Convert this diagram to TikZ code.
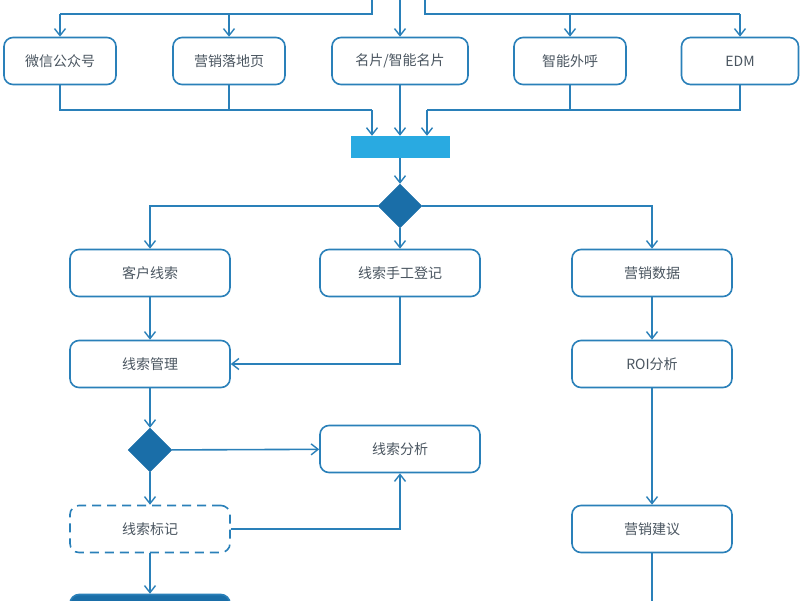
\documentclass[tikz,border=0pt]{standalone}
\usepackage{fontspec}
\setmainfont{Noto Sans CJK SC}
\usetikzlibrary{arrows.meta,shapes.geometric}
\definecolor{ln}{HTML}{2A80B9}
\definecolor{dk}{HTML}{1A6EA8}
\definecolor{bar}{HTML}{29AAE1}
\definecolor{tx}{HTML}{4A5560}
\begin{document}
\begin{tikzpicture}[x=1pt,y=-1pt,
 box/.style={draw=ln,line width=1.6pt,rounded corners=9pt,minimum width=160pt,minimum height=47pt,text=tx,font=\fontsize{14}{16}\selectfont,fill=white},
 sbox/.style={box,minimum width=112pt},
 dia/.style={diamond,fill=dk,draw=dk,minimum width=44pt,minimum height=44pt,inner sep=0pt},
 ar/.style={draw=ln,line width=1.6pt,-{Straight Barb[length=7pt,width=11pt,line width=1.4pt]}},
 ln/.style={draw=ln,line width=1.6pt}]
\useasboundingbox (0,0) rectangle (800,600);
\clip (0,0) rectangle (800,600);
\fill[white] (0,0) rectangle (800,600);
\node[sbox] (wx) at (60,61) {微信公众号};
\node[sbox] (ym) at (229,61) {营销落地页};
\node[box,minimum width=136pt] (mp) at (400,61) {名片/智能名片};
\node[sbox] (zn) at (570,61) {智能外呼};
\node[sbox,minimum width=117pt] (edm) at (740,61) {EDM};
\node[fill=bar,minimum width=99pt,minimum height=22pt,inner sep=0pt] (b) at (400,147) {};
\node[dia] (d1) at (400,206) {};
\node[box] (kh) at (150,273) {客户线索};
\node[box] (sg) at (400,273) {线索手工登记};
\node[box] (yx) at (652,273) {营销数据};
\node[box] (gl) at (150,364) {线索管理};
\node[box] (roi) at (652,364) {ROI分析};
\node[dia] (d2) at (150,450) {};
\node[box] (fx) at (400,449) {线索分析};
\node[box,dashed,dash pattern=on 9pt off 6pt] (bj) at (150,529) {线索标记};
\node[box] (jy) at (652,529) {营销建议};
\node[box,fill=dk] (last) at (150,618) {};
\coordinate (tl) at (372,-5); \coordinate (tc) at (400,-5); \coordinate (tr) at (425,-5);
\coordinate (bot) at (652,605);
% top incoming
\draw[ln] (tl) -- (372,14) -- (60,14);
\draw[ln] (tr) -- (425,14) -- (740,14);
\draw[ar] (60,14) -- (wx);
\draw[ar] (229,14) -- (ym);
\draw[ar] (tc) -- (mp);
\draw[ar] (570,14) -- (zn);
\draw[ar] (740,14) -- (edm);
% merge
\draw[ln] (wx.south) -- (60,110) -- (372,110);
\draw[ln] (ym.south) -- (229,110);
\draw[ar] (372,110) -- (b.north -| 372,0);
\draw[ar] (mp) -- (b);
\draw[ln] (edm.south) -- (740,110) -- (427,110);
\draw[ln] (zn.south) -- (570,110);
\draw[ar] (427,110) -- (b.north -| 427,0);
\draw[ar] (b) -- (d1);
\draw[ar] (d1.west) -| (kh.north);
\draw[ar] (d1.east) -| (yx.north);
\draw[ar] (d1) -- (sg);
\draw[ar] (kh) -- (gl);
\draw[ar] (sg.south) |- (gl.east);
\draw[ar] (gl) -- (d2);
\draw[ar] (d2) -- (fx);
\draw[ar] (d2) -- (bj);
\draw[ar] (bj.east) -| (fx.south);
\draw[ar] (bj) -- (last);
\draw[ar] (yx) -- (roi);
\draw[ar] (roi) -- (jy);
\draw[ln] (jy) -- (bot);
\end{tikzpicture}
\end{document}
